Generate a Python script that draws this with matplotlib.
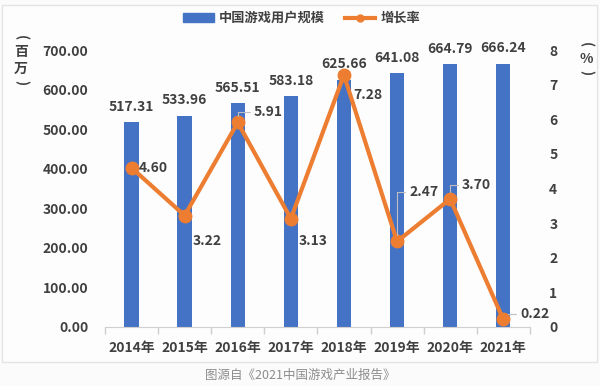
import matplotlib.pyplot as plt
from matplotlib.patches import Rectangle
from matplotlib.lines import Line2D
import numpy as np

plt.rcParams['font.family'] = ['Noto Sans CJK SC', 'DejaVu Sans']

years = ['2014年', '2015年', '2016年', '2017年', '2018年', '2019年', '2020年', '2021年']
users = [517.31, 533.96, 565.51, 583.18, 625.66, 641.08, 664.79, 666.24]
growth = [4.60, 3.22, 5.91, 3.13, 7.28, 2.47, 3.70, 0.22]
left_ticks = [0, 100, 200, 300, 400, 500, 600, 700]
right_ticks = [0, 1, 2, 3, 4, 5, 6, 7, 8]

BLUE = '#4472C4'
ORANGE = '#ED7D31'
TXT = '#404040'
W, H = 600, 386

fig = plt.figure(figsize=(6, 3.86), dpi=100)
fig.patch.set_facecolor('#fbfbfb')
box = Rectangle((0.003, 0.062), 0.992, 0.925, transform=fig.transFigure,
                facecolor='#fdfdfd', edgecolor='#e4e4e4', lw=1.0, zorder=-10)
fig.add_artist(box)

ax = fig.add_axes([0.175, 0.153, 0.708, 0.717])
ax.set_facecolor('none')
x = np.arange(len(years))
ax.bar(x, users, width=0.27, color=BLUE, zorder=2)
for xi, v in zip(x, users):
    ax.annotate(f'{v:.2f}', (xi, v), xytext=(0, 6), textcoords='offset points',
                ha='center', va='bottom', fontsize=10, fontweight='bold', color=TXT,
                annotation_clip=False)

ax.set_xlim(-0.5, 7.5)
ax.set_ylim(0, 700)
ax.set_yticks(left_ticks)
ax.set_yticklabels([f'{t:.2f}' for t in left_ticks])
ax.set_xticks(x)
ax.set_xticklabels(years)
ax.set_xticks(np.arange(-0.5, 8, 1), minor=True)
ax.tick_params(axis='x', which='major', length=0, pad=10, labelsize=10, labelcolor=TXT)
ax.tick_params(axis='x', which='minor', length=5, color='#cfcfcf', width=1)
ax.tick_params(axis='y', length=0, pad=12, labelsize=10, labelcolor=TXT)
for lbl in ax.get_xticklabels() + ax.get_yticklabels():
    lbl.set_fontweight('bold')
for s in ['top', 'left', 'right']:
    ax.spines[s].set_visible(False)
ax.spines['bottom'].set_color('#cfcfcf')

ax2 = ax.twinx()
ax2.set_ylim(0, 8)
ax2.set_yticks(right_ticks)
ax2.tick_params(axis='y', length=0, pad=14, labelsize=10, labelcolor=TXT)
for lbl in ax2.get_yticklabels():
    lbl.set_fontweight('bold')
for s in ax2.spines.values():
    s.set_visible(False)
ax2.plot(x, growth, color=ORANGE, lw=3, marker='o', markersize=9, zorder=3,
         solid_joinstyle='miter')

# label offsets in pixels (dx, dy), and whether a leader line is drawn
offsets = [(7, 0, False), (8, -25, False), (16, 10, True), (8, -22, False),
           (9, -20, False), (12, 49, True), (12, 14, True), (17, 5, True)]
for xi, v, (dx, dy, lead) in zip(x, growth, offsets):
    props = None
    if lead:
        props = dict(arrowstyle='-', color='#bfbfbf', lw=0.8, shrinkA=1, shrinkB=5,
                     connectionstyle='angle,angleA=0,angleB=90,rad=0')
    ax2.annotate(f'{v:.2f}', (xi, v), xytext=(dx * 0.72, dy * 0.72), textcoords='offset points',
                 ha='left', va='center', fontsize=10, fontweight='bold', color=TXT,
                 arrowprops=props, annotation_clip=False)


def vlabel(xp, items):
    # vertical axis title: list of (text, y pixel, rotated)
    for s, yp, rot in items:
        fig.text(xp / W, 1 - yp / H, s, ha='center', va='center', fontsize=10,
                 fontweight='bold', color=TXT, rotation=-90 if rot else 0)


vlabel(21, [('(', 38, True), ('百', 52, False), ('万', 69, False), (')', 83, True)])
vlabel(586, [('(', 45, True), ('%', 59, False), (')', 73, True)])

handles = [Rectangle((0, 0), 1, 1, color=BLUE),
           Line2D([], [], color=ORANGE, lw=3, marker='o', markersize=5)]
fig.legend(handles, ['中国游戏用户规模', '增长率'], loc='center', bbox_to_anchor=(0.503, 0.953),
           ncol=2, frameon=False, handlelength=2.3, handleheight=0.6,
           columnspacing=1.5, handletextpad=0.4,
           prop={'weight': 'bold', 'size': 9.5})
for t in fig.legends[0].get_texts():
    t.set_color(TXT)

fig.text(0.5, 0.028, '图源自《2021中国游戏产业报告》', ha='center', va='center',
         fontsize=9, color='#8c8c8c')

fig.savefig('out.png', dpi=100, facecolor=fig.get_facecolor())
